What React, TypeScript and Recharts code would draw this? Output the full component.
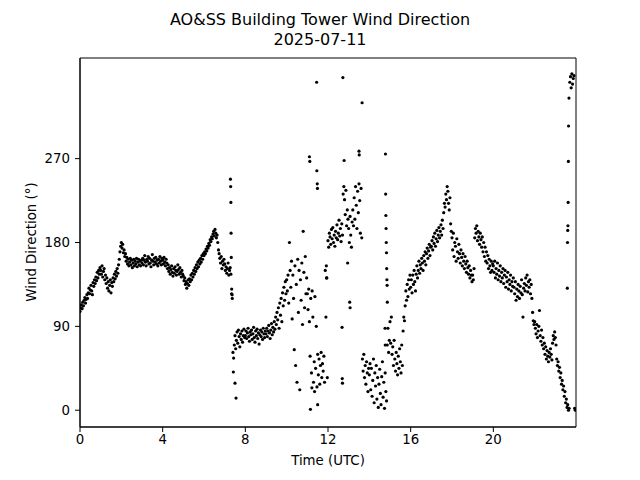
import { ScatterChart, Scatter, XAxis, YAxis, ReferenceArea } from "recharts";

// one reading every 2 minutes, starting at 00:00 UTC
const SAMPLES_PER_HOUR = 30;

// wind direction (deg), one row per hour
const dirHours00to03 = [
  106, 110, 113, 109, 116, 112, 118, 121, 115, 119, 124, 120, 126, 131, 125, 129, 134, 128, 124, 137, 133, 140, 136, 143, 139, 148, 142, 150, 146, 153,
  150, 146, 155, 143, 149, 152, 140, 145, 136, 142, 131, 138, 128, 134, 140, 126, 137, 133, 142, 138, 146, 141, 149, 144, 152, 147, 156, 162, 170, 176,
  180, 174, 178, 169, 172, 165, 168, 160, 164, 157, 162, 155, 159, 163, 156, 161, 153, 158, 162, 155, 160, 157, 163, 154, 159, 162, 156, 160, 155, 161,
  158, 163, 156, 161, 166, 159, 155, 162, 160, 165, 157, 163, 158, 154, 161, 167, 160, 156, 163, 159, 164, 157, 161, 155, 162, 158, 165, 160, 156, 163,
];
const dirHours04to07 = [
  161, 157, 164, 159, 155, 162, 158, 152, 156, 149, 153, 146, 151, 155, 148, 144, 152, 147, 154, 150, 145, 149, 156, 151, 146, 153, 148, 143, 150, 146,
  144, 139, 142, 135, 138, 131, 136, 140, 134, 141, 138, 145, 140, 147, 143, 150, 146, 153, 149, 156, 152, 159, 154, 161, 157, 163, 159, 166, 162, 168,
  166, 170, 168, 173, 171, 176, 174, 179, 177, 183, 181, 186, 184, 189, 192, 187, 194, 190, 185, 188, 180, 172, 168, 163, 158, 165, 152, 160, 156, 162,
  157, 150, 154, 147, 152, 158, 145, 150, 153, 146, 125, 120, 62, 56, 70, 80, 66, 75, 84, 72, 86, 79, 68, 82, 76, 85, 73, 80, 87, 78,
];
const dirHours08to11 = [
  80, 85, 77, 83, 88, 79, 74, 84, 81, 86, 76, 82, 89, 78, 73, 85, 80, 87, 77, 83, 71, 81, 86, 79, 84, 76, 88, 82, 78, 85,
  82, 88, 79, 85, 91, 83, 77, 86, 93, 81, 89, 84, 95, 87, 100, 92, 105, 97, 110, 88, 115, 102, 120, 95, 126, 112, 132, 118, 138, 125,
  140, 128, 145, 115, 180, 150, 132, 160, 98, 145, 120, 65, 155, 48, 135, 30, 162, 105, 150, 22, 140, 118, 158, 92, 192, 148, 110, 165, 125, 142,
  125, 108, 130, 95, 58, 120, 40, 128, 100, 30, 52, 122, 45, 90, 25, 60, 38, 55, 28, 48, 62, 35, 50, 42, 58, 30, 150, 100, 142, 35,
];
const dirHours12to15 = [
  182, 175, 190, 186, 178, 194, 184, 196, 180, 188, 176, 192, 185, 199, 183, 190, 204, 187, 195, 181, 200, 188, 232, 240, 226, 210, 236, 198, 215, 205,
  195, 180, 208, 188, 175, 202, 215, 198, 228, 205, 240, 220, 195, 235, 212, 243, 225, 190, 238, 185, 55, 42, 60, 35, 48, 28, 52, 40, 20, 45,
  38, 50, 22, 45, 15, 32, 55, 8, 40, 26, 48, 12, 35, 3, 28, 44, 18, 6, 36, 52, 14, 30, 2, 40, 20, 10, 70, 88, 62, 75,
  95, 72, 100, 60, 68, 48, 75, 55, 42, 62, 50, 38, 58, 45, 66, 52, 40, 70, 48, 85, 100, 96, 112, 128, 118, 135, 122, 140, 130, 145,
];
const dirHours16to19 = [
  132, 140, 126, 145, 135, 150, 138, 128, 146, 155, 142, 150, 160, 147, 156, 152, 163, 158, 150, 166, 160, 170, 156, 168, 174, 163, 171, 178, 166, 175,
  176, 182, 172, 186, 179, 190, 176, 184, 193, 181, 188, 196, 185, 192, 199, 188, 204, 195, 212, 222, 218, 232, 226, 240, 235, 222, 215, 228, 200, 192,
  185, 172, 190, 165, 180, 176, 160, 184, 170, 163, 178, 168, 158, 172, 164, 155, 168, 160, 152, 165, 157, 148, 160, 153, 146, 155, 142, 150, 145, 138,
  145, 140, 152, 185, 195, 190, 198, 182, 192, 186, 178, 190, 183, 175, 186, 170, 180, 165, 175, 160, 170, 158, 166, 152, 162, 155, 148, 160, 150, 157,
];
const dirHours20to23 = [
  155, 148, 160, 142, 152, 146, 158, 140, 150, 144, 155, 138, 148, 142, 152, 136, 145, 150, 132, 143, 138, 148, 130, 140, 135, 145, 128, 138, 133, 142,
  132, 125, 138, 118, 130, 122, 135, 128, 120, 133, 126, 140, 124, 100, 131, 136, 128, 142, 134, 145, 127, 138, 132, 140, 125, 135, 120, 105, 96, 92,
  95, 88, 82, 92, 78, 85, 90, 107, 80, 74, 86, 70, 78, 66, 72, 60, 68, 55, 64, 58, 52, 62, 57, 66, 60, 54, 72, 80, 76, 84,
  78, 70, 55, 48, 52, 42, 46, 35, 40, 28, 32, 22, 26, 15, 20, 8, 12, 3, 6, 0, 2, 352, 358, 346, 361, 350, 356, 359, 2, 0,
];

// extra readings where the vane swings fast
const burstHours = [
  7.28, 7.29, 7.3, 7.31, 7.32, 7.34, 7.36, 7.42, 7.5, 7.55,
  11.1, 11.12, 11.15, 11.22, 11.35, 11.45, 11.46, 11.48, 11.49, 11.5, 11.92, 11.94,
  12.68, 12.69, 12.7, 12.72, 12.78, 12.95, 13.05, 13.07, 13.5, 13.51, 13.65,
  14.76, 14.77, 14.78, 14.79, 14.8, 14.81, 14.82, 14.83, 14.84, 14.85, 14.86, 14.87,
  23.58, 23.59, 23.6, 23.61, 23.62, 23.63, 23.64, 23.66,
];
const burstDirs = [
  248, 240, 223, 190, 164, 130, 124, 41, 29, 13,
  272, 267, 1, 24, 20, 352, 257, 243, 238, 6, 155, 142,
  89, 34, 29, 357, 268, 158, 116, 110, 278, 274, 330,
  88, 70, 275, 232, 209, 195, 180, 169, 152, 140, 134, 116,
  131, 180, 193, 198, 223, 267, 305, 335,
];

const xTicks = [0, 4, 8, 12, 16, 20];
const yTicks = [0, 90, 180, 270];

const FONT = "DejaVu Sans, sans-serif";

const regular = [
  ...dirHours00to03,
  ...dirHours04to07,
  ...dirHours08to11,
  ...dirHours12to15,
  ...dirHours16to19,
  ...dirHours20to23,
].map((d, i) => ({ t: i / SAMPLES_PER_HOUR, d }));

const bursts = burstHours.map((t, i) => ({ t, d: burstDirs[i] }));

const points = [...regular, ...bursts].sort((a, b) => a.t - b.t);

const Dot = (props: any) => <circle cx={props.cx} cy={props.cy} r={1.6} fill="#000" />;

const tickStyle = { fill: "#000", fontSize: 13.33, fontFamily: FONT };

export default function App() {
  return (
    <div style={{ position: "absolute", left: 0, top: 0, width: 640, height: 480, background: "#fff" }}>
      <ScatterChart width={640} height={480} margin={{ top: 58, right: 64, bottom: 0, left: 0 }}>
        <XAxis
          type="number"
          dataKey="t"
          domain={[0, 24]}
          ticks={xTicks}
          allowDataOverflow
          height={53}
          tickSize={5}
          tickMargin={3}
          stroke="#000"
          tick={tickStyle}
        />
        <YAxis
          type="number"
          dataKey="d"
          domain={[-18, 378]}
          ticks={yTicks}
          allowDataOverflow
          width={80}
          tickSize={5}
          tickMargin={5}
          stroke="#000"
          tick={tickStyle}
        />
        <ReferenceArea x1={0} x2={24} y1={-18} y2={378} fill="none" stroke="#000" strokeWidth={1} ifOverflow="visible" />
        <Scatter data={points} shape={Dot} isAnimationActive={false} />
      </ScatterChart>
      <svg width={640} height={480} style={{ position: "absolute", left: 0, top: 0, pointerEvents: "none" }}>
        <g fontFamily={FONT} fill="#000">
          <text x={320} y={25} fontSize={16} textAnchor="middle">AO&amp;SS Building Tower Wind Direction</text>
          <text x={320} y={44.5} fontSize={16} textAnchor="middle">2025-07-11</text>
          <text x={328} y={465} fontSize={13.33} textAnchor="middle">Time (UTC)</text>
          <text x={36} y={242} fontSize={13.33} textAnchor="middle" transform="rotate(-90 36 242)">
            Wind Direction (°)
          </text>
        </g>
      </svg>
    </div>
  );
}
